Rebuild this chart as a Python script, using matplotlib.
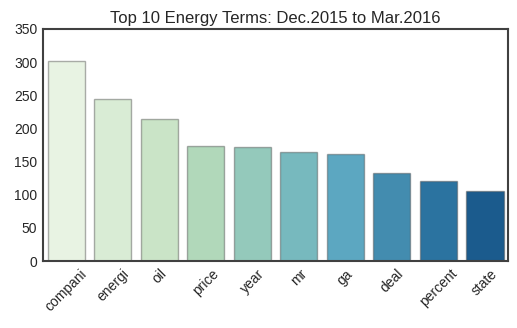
import numpy as np
import matplotlib
matplotlib.use("Agg")
import matplotlib.pyplot as plt
import seaborn as sns

# Term counts for the most frequent stemmed energy terms
terms = ["compani", "energi", "oil", "price", "year", "mr", "ga", "deal", "percent", "state"]
counts = [301, 244, 214, 174, 172, 164, 162, 133, 121, 106]

sns.set_style("white")
plt.rcParams['font.family'] = ['Arial', 'Liberation Sans', 'DejaVu Sans']

fig = plt.figure(figsize=(5.17, 3.28), dpi=100)
ax = fig.add_axes([0.083, 0.204, 0.9, 0.708])

# seaborn barplot style: GnBu palette at 0.75 saturation
palette = [sns.desaturate(c, 0.75) for c in sns.color_palette("GnBu", len(terms))]
x = np.arange(len(terms))
ax.bar(x, counts, width=0.8, color=palette, edgecolor=(0.3, 0.3, 0.3, 0.45), linewidth=1.0)

ax.set_xlim(-0.5, len(terms) - 0.5)
ax.set_ylim(0, 350)
ax.set_yticks(range(0, 351, 50))
ax.set_xticks(x)
ax.set_xticklabels(terms, rotation=45)
ax.tick_params(axis="both", labelsize=10, colors="0.15", length=0, pad=4)
ax.set_title("Top 10 Energy Terms: Dec.2015 to Mar.2016", fontsize=12, color="0.15", pad=4)

for side in ax.spines.values():
    side.set_color("0.25")
    side.set_linewidth(1.5)

fig.savefig("out.png", dpi=100)
